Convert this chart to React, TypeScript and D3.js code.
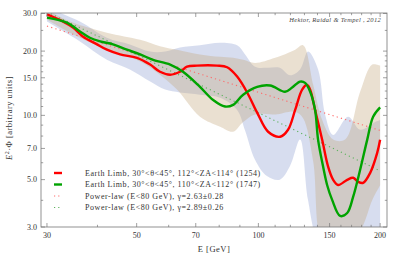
import React, { useEffect, useRef } from 'react';
import * as d3 from 'd3';

// curves: [E (GeV), E^2 Phi]
const redCurve: [number, number][] = [
  [30, 29.7], [32.9, 27.5], [34.8, 25.8], [36.8, 23.4], [39.9, 21.5], [42.2, 20.3],
  [45.5, 19.3], [50.1, 18.6], [54.0, 17.3], [57.1, 16.0], [60.5, 15.5], [64.0, 16.0],
  [66.6, 16.9], [70.5, 17.1], [79.0, 17.1], [83.7, 16.8], [88.6, 15.2], [93.8, 12.8],
  [99.3, 10.3], [105.7, 8.38], [113.2, 7.94], [118.4, 8.56], [123.3, 10.6], [128.3, 13.2],
  [132.0, 13.9], [134.3, 13.2], [138.1, 10.6], [143.8, 7.68], [148.8, 5.74], [153.1, 4.99],
  [157.5, 4.72], [165.8, 4.99], [171.5, 5.1], [176.5, 4.88], [181.6, 4.83], [189.0, 5.38],
  [196.7, 6.67], [200, 7.68],
];

const greenCurve: [number, number][] = [
  [30, 28.7], [33.6, 27.2], [36.2, 24.7], [38.3, 23.1], [40.6, 22.2], [43.7, 21.5],
  [47.3, 20.3], [51.0, 19.3], [54.9, 18.2], [60.5, 17.3], [65.1, 16.0], [71.7, 13.6],
  [77.3, 11.8], [82.7, 11.0], [86.6, 11.2], [91.7, 12.5], [99.3, 13.6], [106.9, 13.8],
  [116.4, 12.9], [121.2, 13.5], [126.8, 14.4], [130.5, 14.2], [134.3, 12.9], [138.1, 10.6],
  [140.5, 7.68], [144.6, 5.74], [147.9, 4.72], [152.2, 4.02], [159.3, 3.38], [165.8, 3.49],
  [171.5, 4.15], [178.5, 5.56], [185.8, 7.68], [192.2, 9.85], [200, 10.9],
];

// power-law fits below 80 GeV, drawn over the full range
const redFit: [number, number][] = [[30, 26.2], [200, 8.5]];
const greenFit: [number, number][] = [[30, 30.5], [200, 5.5]];

// uncertainty bands: [E, low, high]
const blueBand: [number, number, number][] = [
  [30, 27.5, 32.0], [36.2, 22.2, 27.5], [42.2, 18.2, 23.1], [48.1, 16.4, 21.5],
  [54.0, 14.4, 19.9], [58.8, 13.2, 19.9], [64.0, 12.8, 20.8], [71.7, 12.5, 21.3],
  [80.4, 12.1, 21.9], [88.6, 10.6, 21.3], [92.7, 8.5, 19.3], [98.1, 6.2, 16.9],
  [105, 5.2, 16.7], [113, 5.0, 16.7], [119.8, 5.8, 15.4], [126.8, 7.7, 16.4],
  [132.7, 4.0, 19.9], [140.5, 2.6, 16.4], [146.2, 2.6, 10.1], [153.1, 2.6, 8.1],
  [166.7, 2.6, 9.85], [178.5, 2.6, 8.56], [194.4, 2.6, 9.3], [200, 2.6, 9.5],
];

const tanBand: [number, number, number][] = [
  [30, 28.1, 31.3], [34.2, 24.4, 27.5], [42.2, 20.3, 24.4], [51.0, 17.9, 22.6],
  [57.1, 15.5, 21.1], [62.9, 13.2, 20.3], [71.7, 9.85, 19.3], [80.4, 8.85, 18.8],
  [86.6, 8.38, 18.6], [91.7, 9.3, 18.2], [98.1, 10.1, 17.6], [110, 10.1, 18.6],
  [123.3, 10.4, 20.3], [129, 9.7, 21.3], [136.6, 6.1, 13.9], [143.8, 2.6, 9.5],
  [153.1, 2.6, 7.7], [163.9, 2.6, 7.7], [178.5, 2.9, 12.9], [191.2, 4.0, 17.3],
  [200, 4.7, 17.1],
];

const xMajor = [30, 50, 70, 100, 150, 200];
const xMinor = [40, 60, 80, 90, 110, 120, 130, 140, 160, 170, 180, 190];
const yMajor = [3, 5, 7, 10, 15, 20, 30];
const yMinor = [4, 6, 8, 9, 11, 12, 13, 14, 16, 17, 18, 19, 25];

const legendLabels = [
  'Earth Limb, 30°<θ<45°, 112°<ZA<114° (1254)',
  'Earth Limb, 30°<θ<45°, 110°<ZA<112° (1747)',
  'Power-law (E<80 GeV), γ=2.63±0.28',
  'Power-law (E<80 GeV), γ=2.89±0.26',
];

const App = () => {
  const svgRef = useRef<SVGSVGElement>(null);

  useEffect(() => {
    const width = 415;
    const height = 265;
    const frame = { left: 41, right: 387, top: 13, bottom: 227 };
    const serif = '"Liberation Serif", "DejaVu Serif", serif';

    const svg = d3.select(svgRef.current);
    svg.selectAll('*').remove();
    svg.attr('width', width).attr('height', height);

    const x = d3.scaleLog().domain([29, 208]).range([frame.left, frame.right]);
    const y = d3.scaleLog().domain([3, 30]).range([frame.bottom, 13.5]);

    svg.append('defs').append('clipPath').attr('id', 'plot-clip')
      .append('rect')
      .attr('x', frame.left).attr('y', frame.top)
      .attr('width', frame.right - frame.left).attr('height', frame.bottom - frame.top);

    const plot = svg.append('g').attr('clip-path', 'url(#plot-clip)');

    const band = d3.area<[number, number, number]>()
      .x(d => x(d[0]))
      .y0(d => y(d[1]))
      .y1(d => y(d[2]))
      .curve(d3.curveCatmullRom);

    plot.append('path').datum(blueBand).attr('d', band)
      .attr('fill', 'rgb(150,165,212)').attr('fill-opacity', 0.38);
    plot.append('path').datum(tanBand).attr('d', band)
      .attr('fill', 'rgb(196,165,122)').attr('fill-opacity', 0.35);

    const line = d3.line<[number, number]>()
      .x(d => x(d[0]))
      .y(d => y(d[1]));

    plot.append('path').datum(redFit).attr('d', line)
      .attr('fill', 'none').attr('stroke', '#ff6a6a').attr('stroke-width', 1.1)
      .attr('stroke-dasharray', '1.2,3.2');
    plot.append('path').datum(greenFit).attr('d', line)
      .attr('fill', 'none').attr('stroke', '#5fb35f').attr('stroke-width', 1.1)
      .attr('stroke-dasharray', '1.2,3.2');

    const smooth = line.curve(d3.curveCatmullRom);
    plot.append('path').datum(redCurve).attr('d', smooth)
      .attr('fill', 'none').attr('stroke', '#ff0000').attr('stroke-width', 2.4);
    plot.append('path').datum(greenCurve).attr('d', smooth)
      .attr('fill', 'none').attr('stroke', '#00a300').attr('stroke-width', 2.4);

    // frame and inward ticks on all four sides
    svg.append('rect')
      .attr('x', frame.left).attr('y', frame.top)
      .attr('width', frame.right - frame.left).attr('height', frame.bottom - frame.top)
      .attr('fill', 'none').attr('stroke', '#777').attr('stroke-width', 0.8);

    const ticks = svg.append('g').attr('stroke', '#777').attr('stroke-width', 0.7);
    const xTick = (v: number, len: number) => {
      ticks.append('line').attr('x1', x(v)).attr('x2', x(v))
        .attr('y1', frame.bottom).attr('y2', frame.bottom - len);
      ticks.append('line').attr('x1', x(v)).attr('x2', x(v))
        .attr('y1', frame.top).attr('y2', frame.top + len);
    };
    const yTick = (v: number, len: number) => {
      ticks.append('line').attr('y1', y(v)).attr('y2', y(v))
        .attr('x1', frame.left).attr('x2', frame.left + len);
      ticks.append('line').attr('y1', y(v)).attr('y2', y(v))
        .attr('x1', frame.right).attr('x2', frame.right - len);
    };
    xMajor.forEach(v => xTick(v, 4));
    xMinor.forEach(v => xTick(v, 2.2));
    yMajor.forEach(v => yTick(v, 4));
    yMinor.forEach(v => yTick(v, 2.2));

    svg.append('g').selectAll('text').data(xMajor).enter().append('text')
      .attr('x', d => x(d)).attr('y', 237.5)
      .attr('text-anchor', 'middle')
      .attr('font-family', serif).attr('font-size', 8).attr('fill', '#333')
      .text(d => String(d));

    svg.append('g').selectAll('text').data(yMajor).enter().append('text')
      .attr('x', 37).attr('y', d => y(d) + 2.8)
      .attr('text-anchor', 'end')
      .attr('font-family', serif).attr('font-size', 8).attr('fill', '#333')
      .text(d => d.toFixed(1));

    svg.append('text')
      .attr('x', (frame.left + frame.right) / 2).attr('y', 251.5)
      .attr('text-anchor', 'middle')
      .attr('font-family', serif).attr('font-size', 8.5).attr('fill', '#333')
      .attr('letter-spacing', 0.5)
      .text('E [GeV]');

    const yTitle = svg.append('text')
      .attr('transform', `translate(12, ${(frame.top + frame.bottom) / 2 - 2}) rotate(-90)`)
      .attr('text-anchor', 'middle')
      .attr('font-family', serif).attr('font-size', 8.5).attr('fill', '#333')
      .attr('letter-spacing', 0.5);
    yTitle.append('tspan').attr('font-style', 'italic').text('E');
    yTitle.append('tspan').attr('dy', -3.2).attr('font-size', 6).text('2');
    yTitle.append('tspan').attr('dy', 3.2).text('·Φ [arbitrary units]');

    svg.append('text')
      .attr('x', 381).attr('y', 22)
      .attr('text-anchor', 'end')
      .attr('font-family', serif).attr('font-size', 6.5).attr('font-style', 'italic')
      .attr('letter-spacing', 0.3).attr('fill', '#444')
      .text('Hektor, Raidal & Tempel , 2012');

    // legend
    const legendColors = ['#ff0000', '#00a300', '#ff6a6a', '#5fb35f'];
    const legend = svg.append('g');
    legendLabels.forEach((label, i) => {
      const ly = 173 + i * 11.5;
      const dotted = i >= 2;
      legend.append('line')
        .attr('x1', 54).attr('x2', 62).attr('y1', ly).attr('y2', ly)
        .attr('stroke', legendColors[i])
        .attr('stroke-width', dotted ? 1 : 2.4)
        .attr('stroke-dasharray', dotted ? '1.2,3' : null);
      legend.append('text')
        .attr('x', 85).attr('y', ly + 2.8)
        .attr('font-family', serif).attr('font-size', 8).attr('fill', '#333')
        .attr('letter-spacing', 0.55)
        .text(label);
    });
  }, []);

  return (
    <svg ref={svgRef} style={{ position: 'absolute', left: 0, top: 0, background: '#fff' }} />
  );
};

export default App;
